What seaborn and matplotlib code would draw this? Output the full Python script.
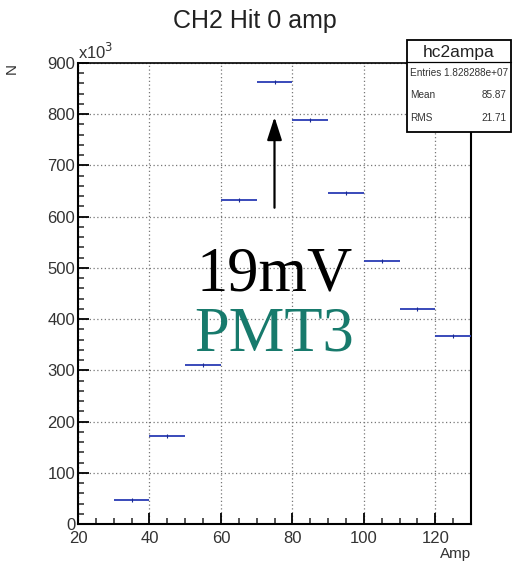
import numpy as np
import pandas as pd
import seaborn as sns
import matplotlib
matplotlib.use("Agg")
import matplotlib.pyplot as plt
from matplotlib.ticker import MultipleLocator

# Histogram bins (Amp) and counts (in units of 10^3)
bin_low = [30, 40, 50, 60, 70, 80, 90, 100, 110, 120]
bin_high = [40, 50, 60, 70, 80, 90, 100, 110, 120, 130]
counts_k = [47, 171, 311, 632, 862, 788, 646, 513, 420, 367]

stats_name = "hc2ampa"
stats_rows = [("Entries", "1.828288e+07"), ("Mean", "85.87"), ("RMS", "21.71")]

df = pd.DataFrame({"lo": bin_low, "hi": bin_high, "n": counts_k})
df["center"] = (df["lo"] + df["hi"]) / 2

sns.set_style("ticks")
plt.rcParams["font.family"] = ["Liberation Sans", "DejaVu Sans"]

W, H = 513, 567
fig = plt.figure(figsize=(W / 100, H / 100), dpi=100)
ax = fig.add_axes([78 / W, 1 - 524 / H, (471 - 78) / W, (524 - 63) / H])

# bin contents drawn as horizontal segments with a tiny marker at the centre
ax.hlines(df["n"], df["lo"], df["hi"], colors="#2a3cb4", linewidth=1.3, zorder=3)
sns.scatterplot(data=df, x="center", y="n", marker="|", s=12, color="#1a2a90",
                linewidth=0.8, ax=ax, zorder=4, legend=False)

ax.set_xlim(20, 130)
ax.set_ylim(0, 900)
ax.xaxis.set_major_locator(MultipleLocator(20))
ax.xaxis.set_minor_locator(MultipleLocator(5))
ax.yaxis.set_major_locator(MultipleLocator(100))
ax.yaxis.set_minor_locator(MultipleLocator(20))
ax.tick_params(axis="both", which="major", direction="in", length=8, width=1.3,
               labelsize=12, colors="black", labelcolor="#333333", pad=2)
ax.tick_params(axis="x", which="major", pad=5)
ax.tick_params(axis="both", which="minor", direction="in", length=4, width=1.1)
ax.grid(True, which="major", linestyle=(0, (1, 2)), color="#777777", linewidth=0.9)

for side in ["left", "bottom", "right", "top"]:
    ax.spines[side].set_linewidth(1.5)
    ax.spines[side].set_color("black")
ax.spines["top"].set_linewidth(1.2)

ax.set_xlabel("Amp", fontsize=11, color="#333333")
ax.xaxis.set_label_coords(1.0, -0.05)
ax.xaxis.label.set_horizontalalignment("right")
ax.set_ylabel("")
fig.text(12 / W, 1 - 69 / H, "N", rotation=90, ha="center", va="center",
         fontsize=11, color="#333333")

ax.text(0.0, 1.003, r"x10$^{3}$", transform=ax.transAxes, fontsize=12,
        color="#333333", ha="left", va="bottom")

fig.text(255 / W, 1 - 21 / H, "CH2 Hit 0 amp", ha="center", va="center",
         fontsize=18, color="#222222")

# annotation
ax.annotate("", xy=(75, 800), xytext=(75, 612),
            arrowprops=dict(arrowstyle="-|>,head_width=0.45,head_length=1.4",
                            color="black", lw=1.6))
ax.text(75, 485, "19mV", fontsize=45, family=["Liberation Serif", "DejaVu Serif"],
        ha="center", va="center", color="black")
ax.text(75, 368, "PMT3", fontsize=45, family=["Liberation Serif", "DejaVu Serif"],
        ha="center", va="center", color="#177a6c")

# statistics box
bx0, bx1 = 407 / W, 511 / W
by_top, by_bot, by_div = 1 - 40 / H, 1 - 132 / H, 1 - 62 / H
box = plt.Rectangle((bx0, by_bot), bx1 - bx0, by_top - by_bot,
                    transform=fig.transFigure, facecolor="white",
                    edgecolor="black", linewidth=1.3, zorder=10)
fig.add_artist(box)
fig.add_artist(plt.Line2D([bx0, bx1], [by_div, by_div], transform=fig.transFigure,
                          color="black", linewidth=0.9, zorder=11))
fig.text((bx0 + bx1) / 2, 1 - 52 / H, stats_name, ha="center", va="center",
         fontsize=12.5, color="#222222", zorder=12)
row_y = [73, 95, 118]
for (k, v), ry in zip(stats_rows, row_y):
    yy = 1 - ry / H
    if k == "Entries":
        fig.text(410 / W, yy, f"{k} {v}", ha="left", va="center",
                 fontsize=7.2, color="#333333", zorder=12)
    else:
        fig.text(410 / W, yy, k, ha="left", va="center", fontsize=7.2,
                 color="#333333", zorder=12)
        fig.text(507 / W, yy, v, ha="right", va="center", fontsize=7.2,
                 color="#333333", zorder=12)

fig.savefig("out.png", dpi=100, facecolor="white")
